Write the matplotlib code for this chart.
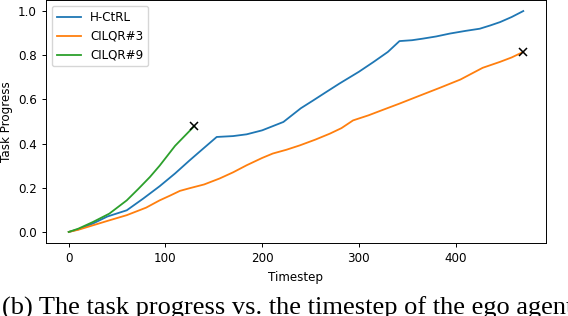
import matplotlib
matplotlib.use("Agg")
import matplotlib.pyplot as plt

# H-CtRL
hc_x = [0, 10, 25, 40, 60, 77, 94, 110, 125, 135, 153, 170, 184, 200, 222, 240, 253, 265,
        280, 300, 315, 330, 342, 355, 366, 380, 394, 410, 425, 436, 446, 458, 470]
hc_y = [0, 0.012, 0.038, 0.07, 0.098, 0.151, 0.207, 0.265, 0.324, 0.362, 0.430, 0.434, 0.442,
        0.46, 0.498, 0.56, 0.596, 0.63, 0.672, 0.725, 0.769, 0.815, 0.864, 0.868, 0.875, 0.885,
        0.898, 0.91, 0.920, 0.935, 0.950, 0.973, 1.0]

# CILQR#3
c3_x = [0, 10, 25, 40, 60, 80, 94, 105, 115, 125, 140, 156, 170, 184, 200, 211, 225, 239,
        255, 270, 282, 294, 310, 325, 342, 360, 384, 405, 428, 446, 458, 470]
c3_y = [0, 0.01, 0.030, 0.05, 0.076, 0.11, 0.143, 0.165, 0.186, 0.198, 0.215, 0.242, 0.27,
        0.302, 0.335, 0.355, 0.372, 0.392, 0.418, 0.445, 0.47, 0.505, 0.528, 0.553, 0.581,
        0.612, 0.653, 0.69, 0.743, 0.77, 0.79, 0.815]

# CILQR#9
c9_x = [0, 10, 25, 42, 60, 72, 84, 94, 110, 130]
c9_y = [0, 0.015, 0.045, 0.083, 0.143, 0.195, 0.249, 0.30, 0.39, 0.48]

fs = 8.6
plt.rcParams['font.size'] = fs

fig = plt.figure(figsize=(5.68, 3.16), dpi=100)
ax = fig.add_axes([46/568, 73/316, 500/568, 243/316])

ax.plot(hc_x, hc_y, lw=1.3, label='H-CtRL')
ax.plot(c3_x, c3_y, lw=1.3, label='CILQR#3')
ax.plot(c9_x, c9_y, lw=1.3, label='CILQR#9')
ax.plot(c3_x[-1], c3_y[-1], 'kx', ms=6, mew=1.1)
ax.plot(c9_x[-1], c9_y[-1], 'kx', ms=6, mew=1.1)

ax.set_xticks([0, 100, 200, 300, 400])
ax.set_yticks([0.0, 0.2, 0.4, 0.6, 0.8, 1.0])
ax.tick_params(length=3, width=0.7, labelsize=fs)
for s in ax.spines.values():
    s.set_linewidth(0.7)
ax.set_xlabel('Timestep', fontsize=fs)
ax.set_ylabel('Task Progress', fontsize=fs)
ax.legend(loc='upper left', fontsize=fs)

# caption, cut by the bottom edge as in the source
fig.text(2/568, 1/316, '(b) The task progress vs. the timestep of the ego agent',
         family='Liberation Serif', fontsize=19, va='baseline', ha='left')

fig.savefig('out.png', dpi=100)
